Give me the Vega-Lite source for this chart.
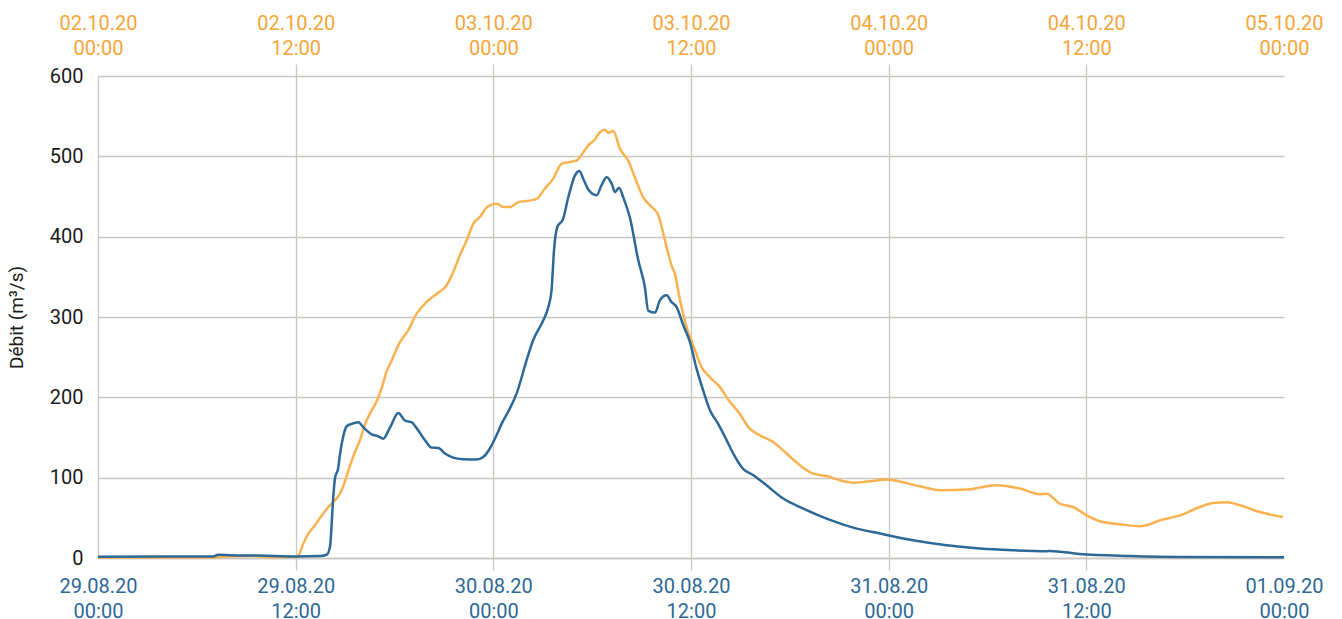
{
  "$schema": "https://vega.github.io/schema/vega-lite/v6.json",
  "width": 1186,
  "height": 482,
  "autosize": {"type": "none"},
  "padding": {"left": 98, "top": 76, "right": 58, "bottom": 61},
  "background": "white",
  "config": {
    "view": {"stroke": null},
    "font": "Roboto",
    "axis": {
      "labelFont": "Roboto",
      "titleFont": "Roboto",
      "labelFontSize": 20,
      "gridColor": "#cac6c2",
      "gridWidth": 1.3,
      "domainColor": "#cac6c2",
      "domainWidth": 1.3,
      "tickColor": "#cac6c2",
      "tickWidth": 1.3
    }
  },
  "layer": [
    {
      "data": {
        "format": {"parse": {"time": "date:'%Y-%m-%d %H:%M'"}},
        "values": [
          {"time": "2020-10-02 00:00", "flow": 0.5},
          {"time": "2020-10-02 07:00", "flow": 0.5},
          {"time": "2020-10-02 07:24", "flow": 1.5},
          {"time": "2020-10-02 09:21", "flow": 2.5},
          {"time": "2020-10-02 10:24", "flow": 1},
          {"time": "2020-10-02 12:05", "flow": 1.5},
          {"time": "2020-10-02 12:10", "flow": 3},
          {"time": "2020-10-02 12:28", "flow": 18},
          {"time": "2020-10-02 12:46", "flow": 30},
          {"time": "2020-10-02 13:10", "flow": 40.7},
          {"time": "2020-10-02 13:35", "flow": 53},
          {"time": "2020-10-02 13:59", "flow": 63.5},
          {"time": "2020-10-02 14:23", "flow": 71.8},
          {"time": "2020-10-02 14:41", "flow": 80},
          {"time": "2020-10-02 14:59", "flow": 94.6},
          {"time": "2020-10-02 15:18", "flow": 115},
          {"time": "2020-10-02 15:36", "flow": 132},
          {"time": "2020-10-02 15:54", "flow": 146.5},
          {"time": "2020-10-02 16:13", "flow": 167},
          {"time": "2020-10-02 16:31", "flow": 180},
          {"time": "2020-10-02 16:55", "flow": 195},
          {"time": "2020-10-02 17:13", "flow": 211},
          {"time": "2020-10-02 17:31", "flow": 232},
          {"time": "2020-10-02 17:50", "flow": 246},
          {"time": "2020-10-02 18:14", "flow": 265},
          {"time": "2020-10-02 18:50", "flow": 283.5},
          {"time": "2020-10-02 19:20", "flow": 304},
          {"time": "2020-10-02 19:57", "flow": 318.7},
          {"time": "2020-10-02 20:34", "flow": 329},
          {"time": "2020-10-02 21:10", "flow": 339.5},
          {"time": "2020-10-02 21:34", "flow": 356},
          {"time": "2020-10-02 21:58", "flow": 376.8},
          {"time": "2020-10-02 22:23", "flow": 395.5},
          {"time": "2020-10-02 22:47", "flow": 416},
          {"time": "2020-10-02 23:11", "flow": 424.5},
          {"time": "2020-10-02 23:41", "flow": 437.8},
          {"time": "2020-10-03 00:12", "flow": 441},
          {"time": "2020-10-03 00:36", "flow": 437},
          {"time": "2020-10-03 01:01", "flow": 437},
          {"time": "2020-10-03 01:31", "flow": 443},
          {"time": "2020-10-03 02:01", "flow": 444.4},
          {"time": "2020-10-03 02:38", "flow": 447},
          {"time": "2020-10-03 03:08", "flow": 460},
          {"time": "2020-10-03 03:38", "flow": 472},
          {"time": "2020-10-03 04:09", "flow": 491},
          {"time": "2020-10-03 04:39", "flow": 493},
          {"time": "2020-10-03 05:04", "flow": 495},
          {"time": "2020-10-03 05:28", "flow": 505},
          {"time": "2020-10-03 05:46", "flow": 513.7},
          {"time": "2020-10-03 06:10", "flow": 521},
          {"time": "2020-10-03 06:28", "flow": 530},
          {"time": "2020-10-03 06:46", "flow": 533},
          {"time": "2020-10-03 06:58", "flow": 529.5},
          {"time": "2020-10-03 07:17", "flow": 531.5},
          {"time": "2020-10-03 07:41", "flow": 509.6},
          {"time": "2020-10-03 08:11", "flow": 495},
          {"time": "2020-10-03 08:42", "flow": 468},
          {"time": "2020-10-03 09:06", "flow": 449},
          {"time": "2020-10-03 09:31", "flow": 439},
          {"time": "2020-10-03 10:01", "flow": 426.6},
          {"time": "2020-10-03 10:19", "flow": 404},
          {"time": "2020-10-03 10:37", "flow": 379},
          {"time": "2020-10-03 10:49", "flow": 364},
          {"time": "2020-10-03 11:01", "flow": 354},
          {"time": "2020-10-03 11:20", "flow": 321},
          {"time": "2020-10-03 11:44", "flow": 287.5},
          {"time": "2020-10-03 12:08", "flow": 265},
          {"time": "2020-10-03 12:38", "flow": 238},
          {"time": "2020-10-03 13:09", "flow": 225},
          {"time": "2020-10-03 13:45", "flow": 213},
          {"time": "2020-10-03 14:16", "flow": 197},
          {"time": "2020-10-03 14:52", "flow": 182},
          {"time": "2020-10-03 15:34", "flow": 161},
          {"time": "2020-10-03 16:11", "flow": 152.7},
          {"time": "2020-10-03 16:59", "flow": 144.4},
          {"time": "2020-10-03 17:48", "flow": 130},
          {"time": "2020-10-03 18:37", "flow": 115.4},
          {"time": "2020-10-03 19:25", "flow": 105},
          {"time": "2020-10-03 20:14", "flow": 102},
          {"time": "2020-10-03 21:02", "flow": 96.7},
          {"time": "2020-10-03 21:51", "flow": 93.8},
          {"time": "2020-10-03 22:52", "flow": 95.5},
          {"time": "2020-10-03 23:52", "flow": 97.6},
          {"time": "2020-10-04 00:16", "flow": 96.7},
          {"time": "2020-10-04 01:53", "flow": 89.3},
          {"time": "2020-10-04 03:07", "flow": 84.3},
          {"time": "2020-10-04 04:44", "flow": 85.2},
          {"time": "2020-10-04 06:33", "flow": 90.5},
          {"time": "2020-10-04 07:58", "flow": 86.4},
          {"time": "2020-10-04 09:11", "flow": 79.3},
          {"time": "2020-10-04 09:35", "flow": 80},
          {"time": "2020-10-04 10:23", "flow": 67.7},
          {"time": "2020-10-04 11:12", "flow": 63.5},
          {"time": "2020-10-04 12:01", "flow": 53},
          {"time": "2020-10-04 12:49", "flow": 45.7},
          {"time": "2020-10-04 14:02", "flow": 42},
          {"time": "2020-10-04 15:15", "flow": 39.5},
          {"time": "2020-10-04 15:39", "flow": 40.7},
          {"time": "2020-10-04 16:28", "flow": 47},
          {"time": "2020-10-04 17:41", "flow": 53},
          {"time": "2020-10-04 18:53", "flow": 63.5},
          {"time": "2020-10-04 19:42", "flow": 68.5},
          {"time": "2020-10-04 20:31", "flow": 69.3},
          {"time": "2020-10-04 21:19", "flow": 65.6},
          {"time": "2020-10-04 22:32", "flow": 57.3},
          {"time": "2020-10-04 23:56", "flow": 51}
        ]
      },
      "mark": {"type": "line", "color": "#fab250", "strokeWidth": 2.5, "interpolate": "monotone"},
      "encoding": {
        "x": {
          "field": "time",
          "type": "temporal",
          "scale": {"domain": [
            {"year": 2020, "month": 10, "date": 2, "hours": 0},
            {"year": 2020, "month": 10, "date": 5, "hours": 0}
          ]},
          "axis": {
            "orient": "top",
            "title": null,
            "values": [
              {"year": 2020, "month": 10, "date": 2, "hours": 0},
              {"year": 2020, "month": 10, "date": 2, "hours": 12},
              {"year": 2020, "month": 10, "date": 3, "hours": 0},
              {"year": 2020, "month": 10, "date": 3, "hours": 12},
              {"year": 2020, "month": 10, "date": 4, "hours": 0},
              {"year": 2020, "month": 10, "date": 4, "hours": 12},
              {"year": 2020, "month": 10, "date": 5, "hours": 0}
            ],
            "labelExpr": "[timeFormat(datum.value, '%d.%m.%y'), timeFormat(datum.value, '%H:%M')]",
            "labelColor": "#f6a53a",
            "labelLineHeight": 25,
            "labelFlush": false,
            "labelOverlap": false,
            "labelPadding": 31,
            "tickSize": 12,
            "tickOpacity": {"condition": {"test": "datum.index > 0 && datum.index < 1", "value": 1}, "value": 0},
            "grid": false,
            "domain": false
          }
        },
        "y": {
          "field": "flow",
          "type": "quantitative",
          "scale": {"domain": [0, 600]}
        }
      }
    },
    {
      "data": {
        "format": {"parse": {"time": "date:'%Y-%m-%d %H:%M'"}},
        "values": [
          {"time": "2020-08-29 00:00", "flow": 1.5},
          {"time": "2020-08-29 04:00", "flow": 2},
          {"time": "2020-08-29 07:00", "flow": 2},
          {"time": "2020-08-29 07:17", "flow": 4},
          {"time": "2020-08-29 08:00", "flow": 3.5},
          {"time": "2020-08-29 09:48", "flow": 3},
          {"time": "2020-08-29 12:06", "flow": 2},
          {"time": "2020-08-29 13:30", "flow": 2.5},
          {"time": "2020-08-29 13:53", "flow": 4},
          {"time": "2020-08-29 14:05", "flow": 14},
          {"time": "2020-08-29 14:17", "flow": 76},
          {"time": "2020-08-29 14:23", "flow": 99},
          {"time": "2020-08-29 14:35", "flow": 112},
          {"time": "2020-08-29 14:41", "flow": 128},
          {"time": "2020-08-29 14:53", "flow": 151},
          {"time": "2020-08-29 15:06", "flow": 164},
          {"time": "2020-08-29 15:24", "flow": 167},
          {"time": "2020-08-29 15:48", "flow": 169},
          {"time": "2020-08-29 16:06", "flow": 163},
          {"time": "2020-08-29 16:37", "flow": 154},
          {"time": "2020-08-29 17:01", "flow": 151.5},
          {"time": "2020-08-29 17:19", "flow": 148.6},
          {"time": "2020-08-29 17:43", "flow": 162},
          {"time": "2020-08-29 18:14", "flow": 180.5},
          {"time": "2020-08-29 18:38", "flow": 171},
          {"time": "2020-08-29 19:02", "flow": 169},
          {"time": "2020-08-29 19:20", "flow": 162},
          {"time": "2020-08-29 19:51", "flow": 146.5},
          {"time": "2020-08-29 20:15", "flow": 137.4},
          {"time": "2020-08-29 20:40", "flow": 137},
          {"time": "2020-08-29 21:04", "flow": 130},
          {"time": "2020-08-29 21:34", "flow": 125},
          {"time": "2020-08-29 22:10", "flow": 123},
          {"time": "2020-08-29 22:59", "flow": 122.5},
          {"time": "2020-08-29 23:23", "flow": 125.7},
          {"time": "2020-08-29 23:47", "flow": 136},
          {"time": "2020-08-30 00:12", "flow": 153},
          {"time": "2020-08-30 00:30", "flow": 167},
          {"time": "2020-08-30 01:00", "flow": 186},
          {"time": "2020-08-30 01:25", "flow": 205},
          {"time": "2020-08-30 02:01", "flow": 246},
          {"time": "2020-08-30 02:25", "flow": 271},
          {"time": "2020-08-30 03:02", "flow": 296},
          {"time": "2020-08-30 03:20", "flow": 312},
          {"time": "2020-08-30 03:32", "flow": 333},
          {"time": "2020-08-30 03:41", "flow": 383},
          {"time": "2020-08-30 03:53", "flow": 412},
          {"time": "2020-08-30 04:14", "flow": 422},
          {"time": "2020-08-30 04:33", "flow": 449},
          {"time": "2020-08-30 04:57", "flow": 476},
          {"time": "2020-08-30 05:13", "flow": 481.7},
          {"time": "2020-08-30 05:30", "flow": 470},
          {"time": "2020-08-30 05:46", "flow": 458.6},
          {"time": "2020-08-30 06:16", "flow": 451.5},
          {"time": "2020-08-30 06:34", "flow": 464},
          {"time": "2020-08-30 06:53", "flow": 474},
          {"time": "2020-08-30 07:11", "flow": 466},
          {"time": "2020-08-30 07:23", "flow": 455.6},
          {"time": "2020-08-30 07:38", "flow": 461},
          {"time": "2020-08-30 07:53", "flow": 449},
          {"time": "2020-08-30 08:17", "flow": 424.5},
          {"time": "2020-08-30 08:48", "flow": 370.6},
          {"time": "2020-08-30 09:12", "flow": 337},
          {"time": "2020-08-30 09:24", "flow": 308},
          {"time": "2020-08-30 09:49", "flow": 305.5},
          {"time": "2020-08-30 10:07", "flow": 321},
          {"time": "2020-08-30 10:31", "flow": 327},
          {"time": "2020-08-30 10:49", "flow": 318.7},
          {"time": "2020-08-30 11:08", "flow": 312},
          {"time": "2020-08-30 11:32", "flow": 289.7},
          {"time": "2020-08-30 11:56", "flow": 269},
          {"time": "2020-08-30 12:20", "flow": 236},
          {"time": "2020-08-30 12:44", "flow": 209},
          {"time": "2020-08-30 13:09", "flow": 184},
          {"time": "2020-08-30 13:39", "flow": 167},
          {"time": "2020-08-30 14:10", "flow": 146.5},
          {"time": "2020-08-30 14:34", "flow": 130},
          {"time": "2020-08-30 15:10", "flow": 111},
          {"time": "2020-08-30 15:47", "flow": 103},
          {"time": "2020-08-30 16:35", "flow": 90.5},
          {"time": "2020-08-30 17:36", "flow": 74},
          {"time": "2020-08-30 18:49", "flow": 61.5},
          {"time": "2020-08-30 20:14", "flow": 49},
          {"time": "2020-08-30 21:51", "flow": 37.8},
          {"time": "2020-08-30 23:28", "flow": 30.4},
          {"time": "2020-08-31 01:29", "flow": 22},
          {"time": "2020-08-31 03:31", "flow": 15.8},
          {"time": "2020-08-31 05:32", "flow": 11.7},
          {"time": "2020-08-31 07:34", "flow": 9.6},
          {"time": "2020-08-31 09:35", "flow": 8.5},
          {"time": "2020-08-31 09:47", "flow": 8.8},
          {"time": "2020-08-31 11:36", "flow": 5},
          {"time": "2020-08-31 14:38", "flow": 2.5},
          {"time": "2020-08-31 17:41", "flow": 1.3},
          {"time": "2020-09-01 00:00", "flow": 1}
        ]
      },
      "mark": {"type": "line", "color": "#2d6896", "strokeWidth": 2.5, "interpolate": "monotone"},
      "encoding": {
        "x": {
          "field": "time",
          "type": "temporal",
          "scale": {"domain": [
            {"year": 2020, "month": 8, "date": 29, "hours": 0},
            {"year": 2020, "month": 9, "date": 1, "hours": 0}
          ]},
          "axis": {
            "orient": "bottom",
            "title": null,
            "values": [
              {"year": 2020, "month": 8, "date": 29, "hours": 0},
              {"year": 2020, "month": 8, "date": 29, "hours": 12},
              {"year": 2020, "month": 8, "date": 30, "hours": 0},
              {"year": 2020, "month": 8, "date": 30, "hours": 12},
              {"year": 2020, "month": 8, "date": 31, "hours": 0},
              {"year": 2020, "month": 8, "date": 31, "hours": 12},
              {"year": 2020, "month": 9, "date": 1, "hours": 0}
            ],
            "labelExpr": "[timeFormat(datum.value, '%d.%m.%y'), timeFormat(datum.value, '%H:%M')]",
            "labelColor": "#2d6896",
            "labelLineHeight": 25,
            "labelFlush": false,
            "labelOverlap": false,
            "labelPadding": 6,
            "tickSize": 12,
            "tickOpacity": {"condition": {"test": "datum.index > 0 && datum.index < 1", "value": 1}, "value": 0},
            "grid": true,
            "gridOpacity": {"condition": {"test": "datum.index > 0 && datum.index < 1", "value": 1}, "value": 0},
            "domain": true
          }
        },
        "y": {
          "field": "flow",
          "type": "quantitative",
          "scale": {"domain": [0, 600]},
          "axis": {
            "title": "Débit (m³/s)",
            "titleColor": "#1a1a1a",
            "titleFontSize": 19,
            "titleFontWeight": "normal",
            "titleAngle": -90,
            "titleX": -82,
            "titleY": 241,
            "titleBaseline": "middle",
            "titleAlign": "center",
            "values": [0, 100, 200, 300, 400, 500, 600],
            "labelColor": "#1a1a1a",
            "labelPadding": 15,
            "ticks": false,
            "tickSize": 0,
            "grid": true,
            "domain": true
          }
        }
      }
    }
  ],
  "resolve": {"scale": {"x": "independent"}, "axis": {"x": "independent"}}
}
